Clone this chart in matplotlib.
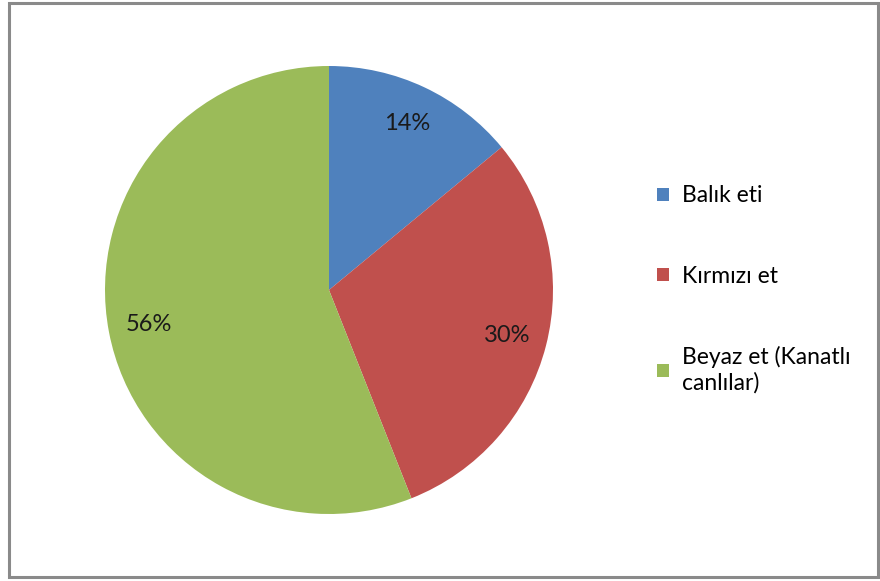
import matplotlib.pyplot as plt
from matplotlib.patches import Rectangle

categories = ['Balık eti', 'Kırmızı et', 'Beyaz et (Kanatlı\ncanlılar)']
shares = [14, 30, 56]
colors = ['#4F81BD', '#C0504D', '#9BBB59']

plt.rcParams['font.family'] = ['Lato', 'DejaVu Sans']

W, H = 880, 581
fig = plt.figure(figsize=(W / 100, H / 100), dpi=100)

# outer chart frame
fig.patches.append(Rectangle((9 / W, 4 / H), 869 / W, 574 / H, transform=fig.transFigure,
                             fill=False, edgecolor='#8a8a8a', linewidth=2.2))

# pie: center (329, 290), radius 224 px
ax = fig.add_axes([105 / W, (H - 514) / H, 448 / W, 448 / H])
wedges, texts, autotexts = ax.pie(shares, colors=colors, startangle=90, counterclock=False,
                                  autopct='%d%%', pctdistance=0.82, radius=1,
                                  textprops={'fontsize': 17, 'color': '#1a1a1a'})
ax.set_xlim(-1, 1)
ax.set_ylim(-1, 1)
ax.set_aspect('equal')

fig.legend(wedges, categories, loc='upper left', bbox_to_anchor=(648 / W, 1 - 176 / H),
           frameon=False, fontsize=16.5, handlelength=0.5, handleheight=0.5,
           handletextpad=0.57, labelspacing=2.6, borderaxespad=0)

fig.savefig('out.png', dpi=100)
